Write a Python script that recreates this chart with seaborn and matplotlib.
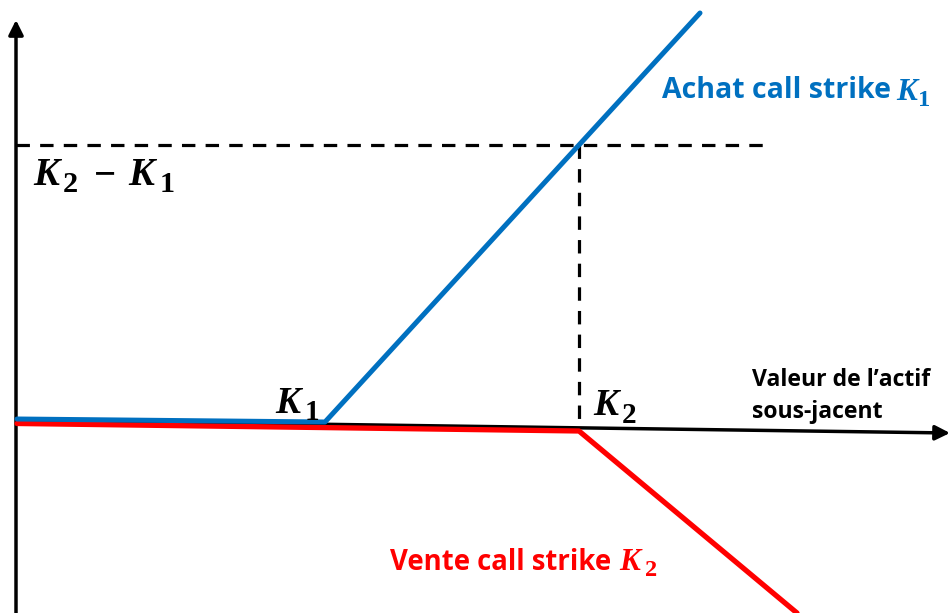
import numpy as np
import pandas as pd
import matplotlib
matplotlib.use("Agg")
from matplotlib import pyplot as plt
import seaborn as sns

# payoff lines (chart units, y grows downwards)
blue_x = [17, 325, 700]
blue_y = [419, 422, 13]
red_x = [17, 579, 797]
red_y = [423.5, 431, 613]

# axes and guides
xaxis_x = [17, 950]
xaxis_y = [420, 433]
yaxis_x = [16, 16]
yaxis_y = [613, 20]
level_y = 145          # K2 - K1
k2_x = 579
guide_end_x = 763
guide_end_y = 427

blue = "#0070C0"
red = "#FF0000"

sns.set_theme(style="white")
plt.rcParams['font.family'] = ['Open Sans', 'DejaVu Sans']

fig = plt.figure(figsize=(9.51, 6.13), dpi=100)
ax = fig.add_axes([0, 0, 1, 1])

arrow = dict(arrowstyle='-|>', lw=2.5, color='black', mutation_scale=22,
             shrinkA=0, shrinkB=0)
ax.annotate('', xy=(xaxis_x[1], xaxis_y[1]), xytext=(xaxis_x[0], xaxis_y[0]),
            arrowprops=arrow, zorder=1)
ax.annotate('', xy=(yaxis_x[1], yaxis_y[1]), xytext=(yaxis_x[0], yaxis_y[0]),
            arrowprops=arrow, zorder=1)

# dashed guides
ax.plot([yaxis_x[0], guide_end_x], [level_y, level_y], color='black', lw=2.3,
        linestyle=(0, (4.2, 3.2)), zorder=1)
ax.plot([k2_x, k2_x], [level_y, guide_end_y], color='black', lw=2.3,
        linestyle=(0, (4.2, 3.2)), zorder=1)

df_red = pd.DataFrame({"x": red_x, "y": red_y})
df_blue = pd.DataFrame({"x": blue_x, "y": blue_y})
sns.lineplot(data=df_red, x="x", y="y", sort=False, estimator=None,
             color=red, lw=3.8, ax=ax, zorder=2)
sns.lineplot(data=df_blue, x="x", y="y", sort=False, estimator=None,
             color=blue, lw=3.6, ax=ax, zorder=3)


def math_piece(x, base, s, size, color='black', italic=True):
    ax.text(x, base, s, fontsize=size, family=['Liberation Serif', 'DejaVu Serif'],
            style='italic' if italic else 'normal', weight='bold', color=color,
            va='baseline', ha='left')


def k_sub(x, base, sub, size, sub_x, sub_drop, color='black'):
    math_piece(x, base, 'K', size, color)
    math_piece(sub_x, base + sub_drop, sub, size * 0.78, color, italic=False)


# text labels
ax.text(662, 98, "Achat call strike", color=blue, fontsize=20.5,
        fontweight='bold', va='baseline', ha='left')
k_sub(896, 100, '1', 22.5, 918, 6, blue)

ax.text(390, 570, "Vente call strike", color=red, fontsize=19.8,
        fontweight='bold', va='baseline', ha='left')
k_sub(619, 570, '2', 22.5, 645, 6, red)

ax.text(752, 386, "Valeur de l\u2019actif", color='black', fontsize=16.6,
        fontweight='bold', va='baseline', ha='left')
ax.text(752, 418, "sous-jacent", color='black', fontsize=16.6,
        fontweight='bold', va='baseline', ha='left')

k_sub(33, 185, '2', 28, 63, 7)
math_piece(94, 185, '\u2212', 28, italic=False)
k_sub(128, 185, '1', 28, 160, 7)

k_sub(275, 413, '1', 27, 305, 7)
k_sub(593, 415, '2', 27, 622, 8)

ax.set_xlim(0, 951)
ax.set_ylim(613, 0)
ax.set_axis_off()

fig.savefig("out.png", dpi=100)
